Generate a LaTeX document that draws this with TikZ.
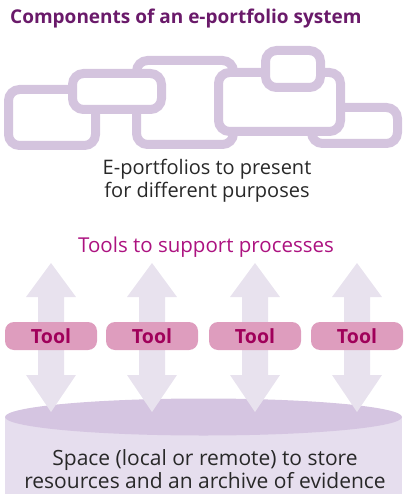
\documentclass[tikz,border=0pt]{standalone}
\usepackage{fontspec}
\setmainfont{Open Sans}
\usepackage{tikz}
\usetikzlibrary{calc}
\definecolor{framelila}{RGB}{212,196,222}
\definecolor{arrowlila}{RGB}{232,226,238}
\definecolor{toolpink}{RGB}{222,157,190}
\definecolor{tooltext}{RGB}{160,0,90}
\definecolor{cyltop}{RGB}{213,197,225}
\definecolor{cylbody}{RGB}{230,222,238}
\definecolor{titlecol}{RGB}{106,26,106}
\definecolor{headcol}{RGB}{172,18,128}
\definecolor{textgrey}{RGB}{40,40,40}

\begin{document}
\begin{tikzpicture}[x=1pt,y=-1pt,
  frame/.style={draw=framelila, line width=9pt, fill=white, rounded corners=11pt},
  toolbox/.style={fill=toolpink, rounded corners=9pt, minimum width=92pt,
    minimum height=28pt, text=tooltext, font=\fontsize{19.5}{19.5}\selectfont\bfseries},
  bigtext/.style={text=textgrey, align=center}]
  \useasboundingbox (0,0) rectangle (406,494);

  % Titulo
  \node[anchor=base west, text=titlecol, font=\fontsize{19}{19}\selectfont\bfseries, inner sep=0pt]
    (titulo) at (10,24) {Components of an e-portfolio system};

  % Marcos de los e-portfolios (orden de dibujo = superposicion)
  \draw[frame] (8.5,89.5) rectangle (95.5,145.5);
  \draw[frame] (136.5,60.5) rectangle (233.5,144.5);
  \draw[frame] (72.5,73.5) rectangle (161.5,109.5);
  \draw[frame] (311.5,107.5) rectangle (397.5,143.5);
  \draw[frame] (218.5,72.5) rectangle (340.5,131.5);
  \draw[frame] (265.5,50.5) rectangle (320.5,87.5);

  \node[bigtext, font=\fontsize{20}{23}\selectfont] (eport) at (207,181)
    {E-portfolios to present\\for different purposes};

  % Herramientas
  \node[text=headcol, font=\fontsize{20.5}{20.5}\selectfont] (procesos) at (206,247.5)
    {Tools to support processes};

  % Cilindro del almacenamiento
  \fill[cylbody] (5,417) rectangle (402,500);
  \fill[cyltop] (203.5,417) ellipse [x radius=198.5, y radius=18.5];

  % Flechas dobles
  \foreach \c in {51,152,255,357}
    \fill[arrowlila] (\c,263) -- (\c+25,297) -- (\c+13,297) -- (\c+13,375) -- (\c+25,375)
      -- (\c,412) -- (\c-25,375) -- (\c-13,375) -- (\c-13,297) -- (\c-25,297) -- cycle;

  \foreach \c/\n in {51/1,152/2,255/3,357/4}
    \node[toolbox] (tool\n) at (\c,336) {Tool};

  \node[bigtext, inner sep=0pt, font=\fontsize{21}{22.5}\selectfont] (espacio) at (205,469)
    {Space (local or remote) to store\\resources and an archive of evidence};
\end{tikzpicture}
\end{document}
